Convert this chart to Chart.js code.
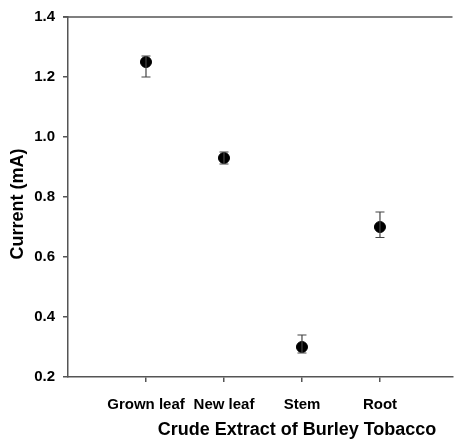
<!DOCTYPE html>
<html>
<head>
<meta charset="utf-8">
<script src="https://cdn.jsdelivr.net/npm/chart.js@4"></script>
<style>
    html, body { margin: 0; padding: 0; background: #fff; overflow: hidden; }
    #wrap { width: 459px; height: 441px; position: relative; }
</style>
</head>
<body>
<div id="wrap"><canvas id="chart"></canvas></div>
<script>
// 数据
const categories = ['Grown leaf', 'New leaf', 'Stem', 'Root'];
const currentMean = [1.25, 0.93, 0.30, 0.70];
const errUpper = [0.02, 0.02, 0.04, 0.05];
const errLower = [0.05, 0.02, 0.02, 0.035];
const yTicks = [0.2, 0.4, 0.6, 0.8, 1.0, 1.2, 1.4];

const AXIS_COLOR = '#555';
const FONT = '"Liberation Sans", Arial, sans-serif';

// 误差线 + 顶部边框
const errorBarPlugin = {
    id: 'errorBars',
    afterDatasetsDraw(chart) {
        const ctx = chart.ctx;
        const x = chart.scales.x;
        const y = chart.scales.y;
        const area = chart.chartArea;
        ctx.save();

        // top frame line
        ctx.strokeStyle = AXIS_COLOR;
        ctx.lineWidth = 1.5;
        ctx.beginPath();
        ctx.moveTo(area.left - 5, area.top);
        ctx.lineTo(area.right, area.top);
        ctx.stroke();

        ctx.strokeStyle = '#444';
        ctx.lineWidth = 1.2;
        currentMean.forEach((v, i) => {
            const px = x.getPixelForValue(i + 1);
            const top = y.getPixelForValue(v + errUpper[i]);
            const bot = y.getPixelForValue(v - errLower[i]);
            ctx.beginPath();
            ctx.moveTo(px, top);
            ctx.lineTo(px, bot);
            ctx.moveTo(px - 4.5, top);
            ctx.lineTo(px + 4.5, top);
            ctx.moveTo(px - 4.5, bot);
            ctx.lineTo(px + 4.5, bot);
            ctx.stroke();
        });
        ctx.restore();
    },
    afterDraw(chart) {
        // 轴标题
        const ctx = chart.ctx;
        ctx.save();
        ctx.fillStyle = '#000';
        ctx.font = `bold 18px ${FONT}`;
        ctx.textAlign = 'center';
        ctx.textBaseline = 'alphabetic';
        ctx.fillText('Crude Extract of Burley Tobacco', chart.chartArea.left + 229, 435);

        ctx.translate(23, 204);
        ctx.rotate(-Math.PI / 2);
        ctx.fillText('Current (mA)', 0, 0);
        ctx.restore();
    }
};

new Chart(document.getElementById('chart'), {
    type: 'scatter',
    data: {
        datasets: [{
            data: currentMean.map((v, i) => ({ x: i + 1, y: v })),
            backgroundColor: '#000',
            borderColor: '#000',
            pointRadius: 5.5,
            pointHoverRadius: 5.5
        }]
    },
    options: {
        responsive: true,
        maintainAspectRatio: false,
        animation: false,
        layout: { padding: { top: 17, right: 0, left: 0, bottom: 0 } },
        plugins: {
            legend: { display: false },
            tooltip: { enabled: false }
        },
        scales: {
            x: {
                type: 'linear',
                min: 0,
                max: 4.93,
                afterFit: s => { s.height = 64; },
                afterBuildTicks: s => { s.ticks = categories.map((c, i) => ({ value: i + 1 })); },
                grid: {
                    drawOnChartArea: false,
                    tickLength: 5,
                    color: AXIS_COLOR,
                    lineWidth: 1.5
                },
                border: { color: AXIS_COLOR, width: 1.5 },
                ticks: {
                    padding: 14,
                    color: '#000',
                    font: { family: FONT, size: 15, weight: 'bold' },
                    callback: v => categories[v - 1] || ''
                }
            },
            y: {
                min: 0.2,
                max: 1.4,
                afterFit: s => { s.width = 68; },
                afterBuildTicks: s => { s.ticks = yTicks.map(v => ({ value: v })); },
                grid: {
                    drawOnChartArea: false,
                    tickLength: 5,
                    color: AXIS_COLOR,
                    lineWidth: 1.5
                },
                border: { color: AXIS_COLOR, width: 1.5 },
                ticks: {
                    padding: 8,
                    color: '#000',
                    font: { family: FONT, size: 15, weight: 'bold' },
                    callback: v => v.toFixed(1)
                }
            }
        }
    },
    plugins: [errorBarPlugin]
});
</script>
</body>
</html>
